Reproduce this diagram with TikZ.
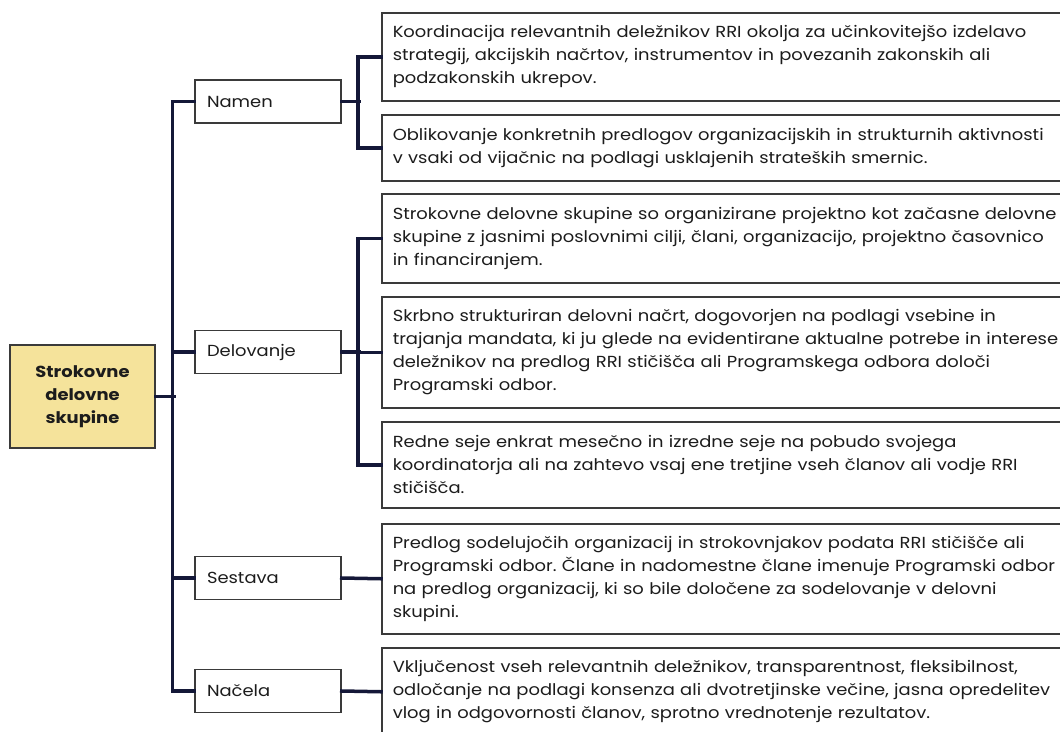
\documentclass[tikz,border=0pt]{standalone}
\usepackage{fontspec}
\setmainfont{Poppins}[FakeStretch=1.12]
\frenchspacing
\definecolor{navy}{HTML}{141838}
\definecolor{boxgray}{HTML}{3A3A3A}
\definecolor{txt}{HTML}{1C1C1C}
\definecolor{rootfill}{HTML}{F5E39B}
\begin{document}
\begin{tikzpicture}[x=1pt,y=-1pt,
  leaf/.style={draw=boxgray, line width=1.5pt, fill=white, rectangle, anchor=north west,
    minimum width=700pt, text width=678pt, inner xsep=11pt, inner ysep=0pt, align=left,
    font=\fontsize{16}{23}\selectfont, text=txt},
  mid/.style={draw=boxgray, line width=1.5pt, fill=white, rectangle, anchor=center,
    minimum width=146pt, minimum height=43pt, text width=122pt, inner xsep=12pt, inner ysep=0pt,
    align=left, font=\fontsize{16}{23}\selectfont, text=txt},
  rootbox/.style={draw=boxgray, line width=1.5pt, fill=rootfill, rectangle, anchor=center,
    minimum width=145pt, minimum height=103pt, inner sep=0pt, align=center,
    font=\fontsize{16}{23}\selectfont\bfseries, text=txt},
  conn/.style={draw=navy, line width=3.5pt, line cap=rect, line join=miter}
]
\useasboundingbox (0,0) rectangle (1060,731);
\fill[white] (0,0) rectangle (1060,731);

\node[rootbox] (root) at (82.5,396.5) {Strokovne\\delovne\\skupine};

\node[mid] (namen) at (268,101.5) {Namen};
\node[mid] (delovanje) at (268,352) {Delovanje};
\node[mid] (sestava) at (268,578) {Sestava};
\node[mid] (nacela) at (268,691) {Načela};

\node[leaf, minimum height=88pt] (n1) at (381,12) {Koordinacija relevantnih deležnikov RRI okolja za učinkovitejšo izdelavo\\strategij, akcijskih načrtov, instrumentov in povezanih zakonskih ali\\podzakonskih ukrepov.};
\node[leaf, minimum height=66pt] (n2) at (381,114) {Oblikovanje konkretnih predlogov organizacijskih in strukturnih aktivnosti\\v vsaki od vijačnic na podlagi usklajenih strateških smernic.};
\node[leaf, minimum height=89pt] (d1) at (381,193) {Strokovne delovne skupine so organizirane projektno kot začasne delovne\\skupine z jasnimi poslovnimi cilji, člani, organizacijo, projektno časovnico\\in financiranjem.};
\node[leaf, minimum height=111pt] (d2) at (381,296) {Skrbno strukturiran delovni načrt, dogovorjen na podlagi vsebine in\\trajanja mandata, ki ju glede na evidentirane aktualne potrebe in interese\\deležnikov na predlog RRI stičišča ali Programskega odbora določi\\Programski odbor.};
\node[leaf, minimum height=86pt] (d3) at (381,421) {Redne seje enkrat mesečno in izredne seje na pobudo svojega\\koordinatorja ali na zahtevo vsaj ene tretjine vseh članov ali vodje RRI\\stičišča.};
\node[leaf, minimum height=110pt] (s1) at (381,523) {Predlog sodelujočih organizacij in strokovnjakov podata RRI stičišče ali\\Programski odbor. Člane in nadomestne člane imenuje Programski odbor\\na predlog organizacij, ki so bile določene za sodelovanje v delovni\\skupini.};
\node[leaf, minimum height=88pt] (p1) at (381,647) {Vključenost vseh relevantnih deležnikov, transparentnost, fleksibilnost,\\odločanje na podlagi konsenza ali dvotretjinske večine, jasna opredelitev\\vlog in odgovornosti članov, sprotno vrednotenje rezultatov.};

% main trunk
\draw[conn] (namen.west) -- ++(-22,0) |- (nacela.west);
\draw[conn] (delovanje.west) -- ++(-22,0);
\draw[conn] (sestava.west) -- ++(-22,0);
\draw[conn] (root.east) -- ++(18,0);
% Namen branch
\draw[conn] (n1.west) -- ++(-23,0) |- (n2.west);
\draw[conn] (namen.east) -- ++(17,0);
% Delovanje branch
\draw[conn] (d1.west) -- ++(-23,0) |- (d3.west);
\draw[conn] (d2.west) -- ++(-23,0);
\draw[conn] (delovanje.east) -- ++(17,0);
% direct
\draw[conn] (sestava.east) -- (s1.west);
\draw[conn] (nacela.east) -- (p1.west);
\end{tikzpicture}
\end{document}
